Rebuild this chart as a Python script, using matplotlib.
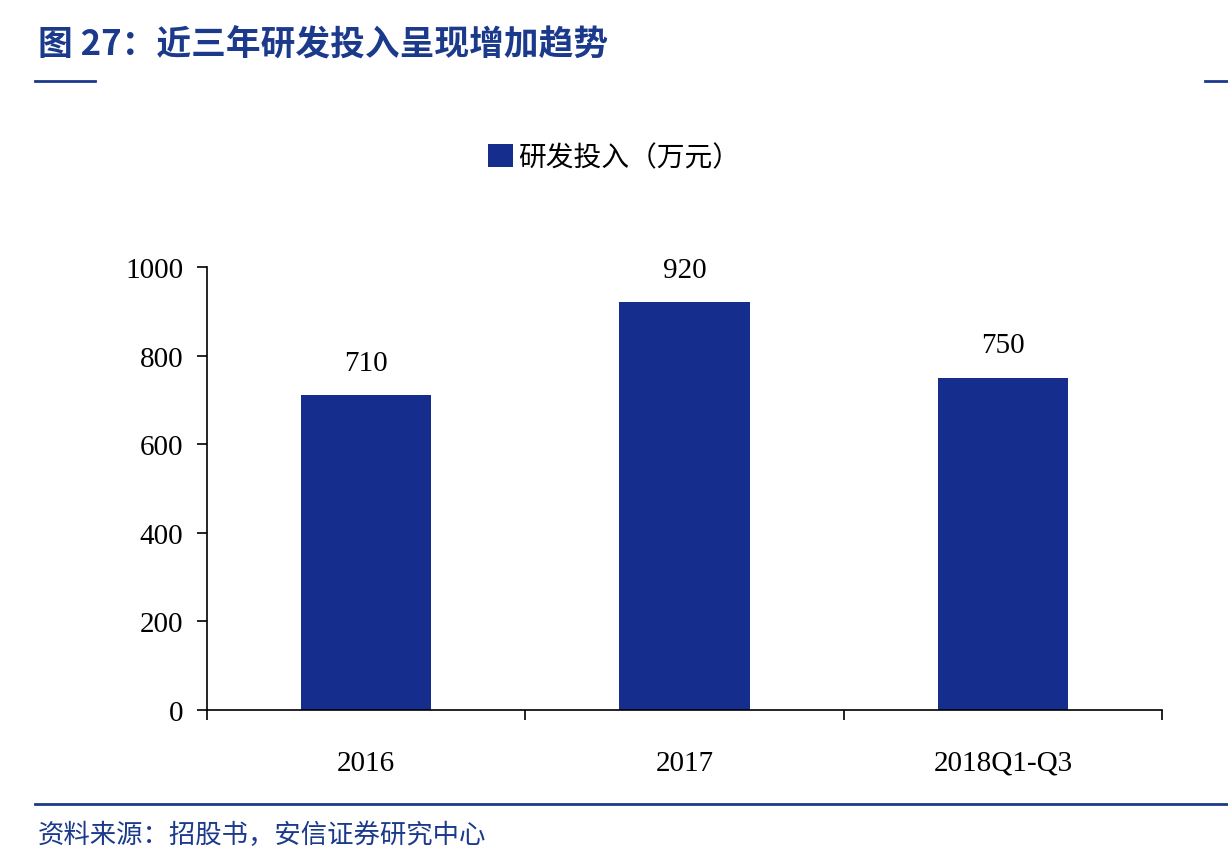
import matplotlib
matplotlib.use("Agg")
import matplotlib.pyplot as plt
from matplotlib.lines import Line2D

categories = ["2016", "2017", "2018Q1-Q3"]
values = [710, 920, 750]
yticks = [0, 200, 400, 600, 800, 1000]
series_name = "研发投入（万元）"

cjk = ["Noto Sans CJK SC", "DejaVu Sans"]
serif = ["Liberation Serif", "DejaVu Serif"]
bar_color = "#152d8c"
title_color = "#1c3a8c"

fig = plt.figure(figsize=(12.28, 8.62), dpi=100)
ax = fig.add_axes([207/1228, 1-711/862, (1162-207)/1228, (711-268)/862])
x = list(range(len(categories)))
ax.bar(x, values, width=0.41, color=bar_color, label=series_name)
for xi, v in zip(x, values):
    ax.text(xi, v + 45, str(v), ha="center", va="bottom", fontsize=21, family=serif)
ax.set_xlim(-0.5, 2.5)
ax.set_ylim(0, 1000)
ax.set_yticks(yticks)
ax.set_yticklabels([str(t) for t in yticks], fontsize=21, family=serif)
ax.set_xticks([-0.5, 0.5, 1.5, 2.5])
ax.set_xticklabels([])
ax.tick_params(axis="x", direction="out", length=7, width=1.2)
ax.tick_params(axis="y", direction="out", length=7, width=1.2, pad=10)
for xi, c in zip(x, categories):
    ax.text(xi, -0.09, c, transform=ax.get_xaxis_transform(), ha="center", va="top",
            fontsize=21, family=serif)
for s in ["top", "right"]:
    ax.spines[s].set_visible(False)
ax.spines["left"].set_linewidth(1.2)
ax.spines["bottom"].set_linewidth(1.2)

leg = fig.legend(loc="center", bbox_to_anchor=(0.5, 1-158/862), frameon=False,
                 prop={"family": cjk, "size": 20}, handlelength=0.9, handleheight=0.9,
                 handletextpad=0.2)

fig.text(38/1228, 1-45/862, "图 27：近三年研发投入呈现增加趋势", fontsize=25, color=title_color,
         fontweight="bold", family=cjk, va="center", ha="left")
fig.add_artist(Line2D([35/1228, 95/1228], [1-82/862]*2, color=title_color, lw=2))
fig.add_artist(Line2D([1205/1228, 1.0], [1-82/862]*2, color=title_color, lw=2))
fig.add_artist(Line2D([35/1228, 1.0], [1-805/862]*2, color=title_color, lw=2))
fig.text(38/1228, 1-835/862, "资料来源：招股书，安信证券研究中心", fontsize=19, color=title_color,
         style="italic", family=cjk, va="center", ha="left")

fig.savefig("out.png", dpi=100)
